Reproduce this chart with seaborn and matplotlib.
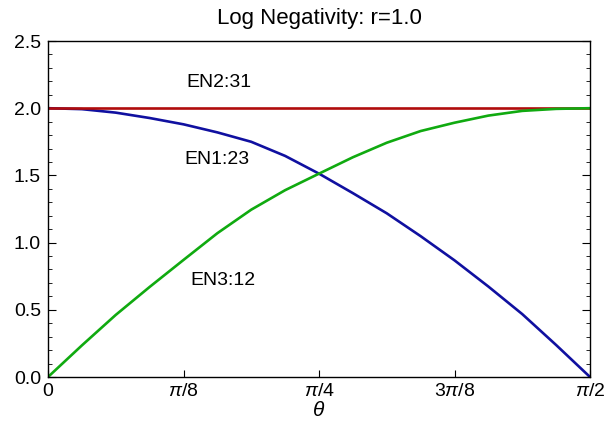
import numpy as np
import pandas as pd
import matplotlib
matplotlib.use("Agg")
import matplotlib.pyplot as plt
import seaborn as sns
from matplotlib.ticker import FixedLocator, MultipleLocator

# theta as fraction of pi/2 (16 equal steps)
theta_frac = [0, 0.0625, 0.125, 0.1875, 0.25, 0.3125, 0.375, 0.4375, 0.5,
              0.5625, 0.625, 0.6875, 0.75, 0.8125, 0.875, 0.9375, 1.0]
en1_23 = [2.0, 1.993, 1.967, 1.927, 1.88, 1.82, 1.75, 1.645, 1.513,
          1.368, 1.218, 1.048, 0.868, 0.673, 0.468, 0.238, 0.0]
en2_31 = [2.0] * 17
en3_12 = [0.0, 0.235, 0.462, 0.67, 0.871, 1.07, 1.245, 1.39, 1.513,
          1.635, 1.743, 1.83, 1.892, 1.945, 1.98, 1.995, 2.0]

series_names = ["EN1:23", "EN2:31", "EN3:12"]
colors = ["#1010a0", "#b00c0c", "#10aa10"]
xtick_labels = ["0", r"$\pi$/8", r"$\pi$/4", r"3$\pi$/8", r"$\pi$/2"]
xtick_frac = [0, 0.25, 0.5, 0.75, 1.0]
ytick_values = [0, 0.5, 1.0, 1.5, 2.0, 2.5]
ytick_labels = ["0.0", "0.5", "1.0", "1.5", "2.0", "2.5"]

theta = np.array(theta_frac) * np.pi / 2
df = pd.concat([
    pd.DataFrame({"theta": theta, "value": en1_23, "series": "EN1:23"}),
    pd.DataFrame({"theta": theta, "value": en2_31, "series": "EN2:31"}),
    pd.DataFrame({"theta": theta, "value": en3_12, "series": "EN3:12"}),
])

sns.set_style("ticks")
plt.rcParams['font.family'] = ['Liberation Sans', 'DejaVu Sans']
plt.rcParams['mathtext.fontset'] = 'custom'
plt.rcParams['mathtext.it'] = 'Liberation Sans:italic'
plt.rcParams['mathtext.rm'] = 'Liberation Sans'
for k in ['text.color', 'axes.labelcolor', 'xtick.color', 'ytick.color',
          'axes.edgecolor']:
    plt.rcParams[k] = 'black'

fig = plt.figure(figsize=(6.06, 4.28), dpi=100)
ax = fig.add_axes([48/606, 1-377/428, (590-48)/606, (377-41)/428])

sns.lineplot(data=df, x="theta", y="value", hue="series", hue_order=series_names,
             palette=dict(zip(series_names, colors)), linewidth=1.9, ax=ax,
             legend=False, sort=False)

ax.set_xlim(0, np.pi/2)
ax.set_ylim(0, 2.5)
ax.xaxis.set_major_locator(FixedLocator([f*np.pi/2 for f in xtick_frac]))
ax.set_xticklabels(xtick_labels, fontsize=14)
ax.set_yticks(ytick_values)
ax.set_yticklabels(ytick_labels, fontsize=14)
ax.yaxis.set_minor_locator(MultipleLocator(0.1))
ax.tick_params(axis='x', which='major', direction='in', length=5, width=0.8,
               top=False, bottom=True, pad=4, colors='black')
ax.tick_params(axis='y', which='major', direction='in', length=6, width=0.8,
               left=True, right=True, pad=5, colors='black')
ax.tick_params(axis='y', which='minor', direction='in', length=3, width=0.6,
               left=True, right=True, colors='black')
for s in ax.spines.values():
    s.set_linewidth(1.0)
    s.set_color("black")

ax.set_xlabel(r"$\theta$", fontsize=15, labelpad=1, color='black')
ax.set_ylabel("")
ax.set_title("Log Negativity: r=1.0", fontsize=16, pad=12, color='black')

ax.text(0.3155*np.pi/2, 2.188, "EN2:31", fontsize=14, ha="center", va="center", color='black')
ax.text(0.3113*np.pi/2, 1.616, "EN1:23", fontsize=14, ha="center", va="center", color='black')
ax.text(0.3234*np.pi/2, 0.720, "EN3:12", fontsize=14, ha="center", va="center", color='black')

fig.savefig("out.png", dpi=100)
